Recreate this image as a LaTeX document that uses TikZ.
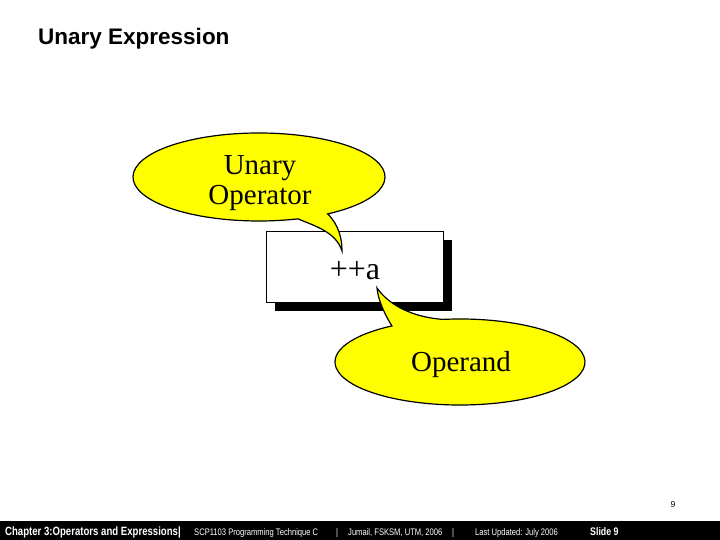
\documentclass[tikz,border=0pt]{standalone}
\usepackage{fontspec}
\setmainfont{Liberation Serif}
\setsansfont{Liberation Sans}
\newfontfamily\footfont{Liberation Sans}[FakeStretch=0.8]
\usetikzlibrary{calc, shadows}
\definecolor{bubbleyellow}{RGB}{255,255,0}

\begin{document}
\begin{tikzpicture}[x=1pt, y=-1pt,
    bubble/.style={fill=bubbleyellow, draw=black, line width=1.2pt, line join=miter},
    bubbletext/.style={font=\fontsize{29}{29.5}\selectfont, align=center, inner sep=0pt},
    foot/.style={text=white, anchor=base west, inner sep=0pt, font=\footfont\fontsize{9.5}{10}\selectfont},
    footbold/.style={foot, font=\footfont\bfseries\fontsize{12}{12}\selectfont}]
    \useasboundingbox (0,0) rectangle (720,540);

    % Tọa độ
    \coordinate (U) at (259,177);
    \coordinate (Utip) at (342,251);
    \coordinate (O) at (460,362);
    \coordinate (Otip) at (377,288);

    % Tiêu đề
    \node[anchor=base west, inner sep=0pt, font=\sffamily\bfseries\fontsize{22.5}{24}\selectfont] (title) at (38,45) {Unary Expression};

    % Hộp biểu thức có bóng
    \node[draw=black, fill=white, line width=0.8pt, minimum width=177pt, minimum height=71pt,
          drop shadow={shadow xshift=8.5pt, shadow yshift=-9pt, opacity=1, fill=black}] (box) at (354.5,266.5) {};
    \node[anchor=base, inner sep=0pt, font=\fontsize{32}{32}\selectfont] (expr) at (355,279) {++a};

    % Bong bóng trên
    \draw[bubble] ($(U)+(57:126 and 44)$) arc[start angle=57, end angle=-288, x radius=126, y radius=44]
        .. controls (315,226) and (336,232) .. (Utip)
        .. controls (342,239) and (339,225) .. cycle;
    \node[bubbletext] (unaryop) at (260,183) {Unary\\Operator};

    % Bong bóng dưới
    \draw[bubble] ($(O)+(-98:125 and 43)$) arc[start angle=-98, end angle=237, x radius=125, y radius=43]
        .. controls (385,315) and (378,300) .. (Otip)
        .. controls (384,298) and (402,316) .. cycle;
    \node[bubbletext] (operand) at (461,365) {Operand};

    % Số trang
    \node[inner sep=0pt, font=\sffamily\fontsize{8.5}{9}\selectfont] (pagenum) at (673,505) {9};

    % Thanh chân trang
    \fill[black] (0,521) rectangle (720,540);
    \node[footbold] (chapter) at (5,535) {Chapter 3:Operators and Expressions|};
    \node[foot] (course) at (194,535) {SCP1103 Programming Technique C};
    \node[foot] (sepa) at (336,535) {|};
    \node[foot] (author) at (348,535) {Jumail, FSKSM, UTM, 2006};
    \node[foot] (sepb) at (452,535) {|};
    \node[foot] (updated) at (475,535) {Last Updated: July 2006};
    \node[footbold, font=\footfont\bfseries\fontsize{11}{11}\selectfont] (slide) at (590,535) {Slide 9};
\end{tikzpicture}
\end{document}
